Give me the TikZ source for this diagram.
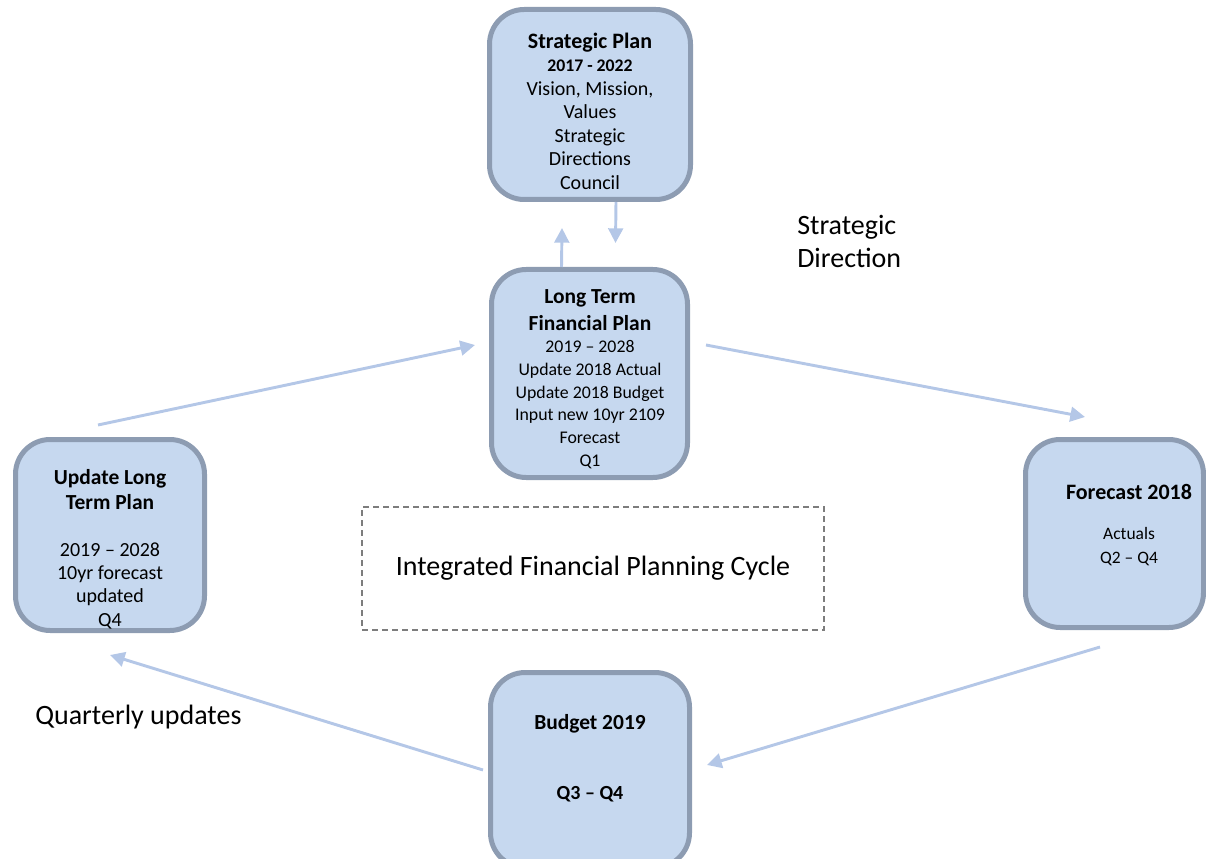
\documentclass[tikz,border=0pt]{standalone}
\usepackage{fontspec}
\setmainfont{Carlito}
\usetikzlibrary{arrows.meta,calc}
\definecolor{boxfill}{RGB}{198,216,239}
\definecolor{bord}{RGB}{141,156,178}
\definecolor{arr}{RGB}{180,199,231}
\definecolor{dashgray}{RGB}{125,125,125}
\tikzset{
  cardbox/.style={draw=bord, fill=boxfill, line width=3.75pt, rounded corners=26pt, inner sep=0pt},
  cardtext/.style={align=center, inner sep=0pt, text=black},
  flow/.style={draw=arr, line width=2.2pt, -{Triangle[length=11pt,width=11pt]}},
  lbl/.style={inner sep=0pt, font=\fontsize{21}{24.75}\selectfont, text=black},
}
\begin{document}
\begin{tikzpicture}[x=0.75pt,y=-0.75pt]
\useasboundingbox (0,0) rectangle (1206,859);
\clip (0,0) rectangle (1206,859);

% boxes
\node[cardbox, minimum width=150.75pt, minimum height=142.5pt] (sp) at (590,104.5) {};
\node[cardbox, minimum width=147pt, minimum height=156pt] (lt) at (589.5,373.5) {};
\node[cardbox, minimum width=141.75pt, minimum height=143.25pt] (upd) at (110,535) {};
\node[cardbox, minimum width=133.5pt, minimum height=141pt] (fc) at (1114.5,533.5) {};
\node[cardbox, minimum width=149.25pt, minimum height=146.25pt] (bud) at (590,770) {};

% texts in boxes
\node[cardtext, font=\fontsize{15}{17.6}\selectfont] (spt) at (590,111)
  {{\bfseries\fontsize{16.5}{17.6}\selectfont Strategic Plan}\\
   {\bfseries\fontsize{13.3}{17.6}\selectfont 2017 - 2022}\\
   Vision, Mission,\\ Values\\ Strategic\\ Directions\\ Council};
\node[cardtext, font=\fontsize{13.35}{17}\selectfont] (ltt) at (590,379)
  {{\bfseries\fontsize{16.1}{17}\selectfont Long Term}\\[3.3pt]
   {\bfseries\fontsize{16.1}{17}\selectfont Financial Plan}\\
   2019 -- 2028\\ Update 2018 Actual\\ Update 2018 Budget\\ Input new 10yr 2109\\ Forecast\\ Q1};
\node[cardtext, font=\fontsize{15}{17.5}\selectfont] (updt) at (110,549)
  {{\bfseries\fontsize{16.1}{17.5}\selectfont Update Long}\\[1.2pt]
   {\bfseries\fontsize{16.1}{17.5}\selectfont Term Plan}\\[17.5pt]
   2019 -- 2028\\ 10yr forecast\\ updated\\ Q4};
\node[cardtext, font=\fontsize{13.1}{18}\selectfont] (fct) at (1129,525)
  {{\bfseries\fontsize{16.5}{18}\selectfont Forecast 2018}\\[12pt]
   Actuals\\ Q2 -- Q4};
\node[cardtext, font=\fontsize{15}{18}\selectfont] (budt) at (590,758)
  {{\bfseries\fontsize{16.1}{18}\selectfont Budget 2019}\\[34.5pt]
   {\bfseries Q3 -- Q4}};

% centre dashed box
\node[draw=dashgray, line width=1.1pt, dash pattern=on 4.5pt off 3pt,
      minimum width=346.5pt, minimum height=92.25pt, inner sep=0pt,
      font=\fontsize{21}{24}\selectfont] (cyc) at (593,568.5)
  {Integrated Financial Planning Cycle};

% free labels
\node[lbl, anchor=west, align=left] (sdir) at (797,241) {Strategic\\Direction};
\node[lbl, anchor=west] (qup) at (35,717) {Quarterly updates};

% connectors
\draw[flow] ($(sp.south)+(26,0)$) -- ($(lt.north)+(26,-24)$);
\draw[flow] ($(lt.north)+(-28,0)$) -- ($(sp.south)+(-28,26)$);
\draw[flow] ($(upd.north)+(-12,-12)$) -- ($(lt.west)+(-14,-28.5)$);
\draw[flow] ($(lt.east)+(16,-28.5)$) -- ($(fc.north)+(-29.5,-20)$);
\draw[flow] ($(fc.south)+(-14.5,17)$) -- ($(bud.east)+(15,-5)$);
\draw[flow] ($(bud.west)+(-5,0)$) -- ($(upd.south)+(0,22)$);
\end{tikzpicture}
\end{document}
